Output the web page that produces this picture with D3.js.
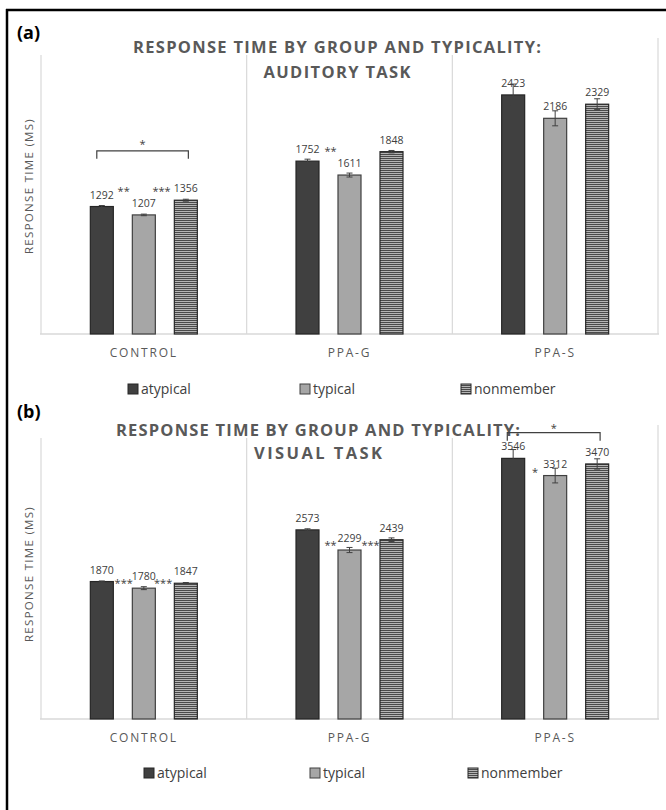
<!DOCTYPE html>
<html>
<head>
<meta charset="utf-8">
<script src="https://cdn.jsdelivr.net/npm/d3@7"></script>
<style>
  body { margin: 0; background: #fff; overflow: hidden; }
  svg { display: block; font-family: "Open Sans", sans-serif; }
</style>
</head>
<body>
<svg id="chart" width="666" height="810"></svg>
<script>
// data (response time, ms)
const groups = ["CONTROL", "PPA-G", "PPA-S"];
const series = ["atypical", "typical", "nonmember"];

const auditoryMeans = [[1292, 1207, 1356], [1752, 1611, 1848], [2423, 2186, 2329]];
const auditoryErr   = [[10, 8, 10], [20, 20, 12], [110, 76, 55]];
const visualMeans   = [[1870, 1780, 1847], [2573, 2299, 2439], [3546, 3312, 3470]];
const visualErr     = [[8, 20, 10], [15, 35, 25], [120, 100, 70]];

// significance marks: group, position between bars (0..2), level in ms
const auditoryStars = [
    { group: "CONTROL", pos: 0.52, level: 1470, text: "**" },
    { group: "CONTROL", pos: 1.42, level: 1470, text: "***" },
    { group: "PPA-G",   pos: 0.55, level: 1874, text: "**" }
];
const visualStars = [
    { group: "CONTROL", pos: 0.52, level: 1878, text: "***" },
    { group: "CONTROL", pos: 1.46, level: 1878, text: "***" },
    { group: "PPA-G",   pos: 0.55, level: 2395, text: "**" },
    { group: "PPA-G",   pos: 1.50, level: 2395, text: "***" },
    { group: "PPA-S",   pos: 0.52, level: 3388, text: "*" }
];
const auditoryBracket = { group: "CONTROL", from: -0.12, to: 2.06, level: 1857, text: "*" };
const visualBracket   = { group: "PPA-S",   from: -0.14, to: 2.07, level: 3895, text: "*" };

const titleLine1 = "RESPONSE TIME BY GROUP AND TYPICALITY:";
const yLabel = "RESPONSE TIME (MS)";

const svg = d3.select("#chart");
const fills = { atypical: "#404040", typical: "#a6a6a6", nonmember: "url(#hstripe)" };
const strokes = { atypical: "#262626", typical: "#404040", nonmember: "#262626" };

const defs = svg.append("defs");
const pat = defs.append("pattern")
    .attr("id", "hstripe")
    .attr("patternUnits", "userSpaceOnUse")
    .attr("width", 4).attr("height", 2);
pat.append("rect").attr("width", 4).attr("height", 2).attr("fill", "#b4b4b4");
pat.append("rect").attr("width", 4).attr("height", 1).attr("fill", "#4a4a4a");

// outer frame (only left and top visible)
svg.append("line").attr("x1", 7).attr("x2", 7).attr("y1", 9).attr("y2", 810)
    .attr("stroke", "#000").attr("stroke-width", 2.5);
svg.append("line").attr("x1", 6).attr("x2", 666).attr("y1", 10).attr("y2", 10)
    .attr("stroke", "#000").attr("stroke-width", 2.5);

const panels = [
    { tag: "(a)", tagY: 39, title2: "AUDITORY TASK", means: auditoryMeans, errs: auditoryErr,
      yMax: 3000, top: 38, bottom: 334, titleX: 337, t1: 52, t2: 77, w1: 408, w2: 147, coverBottom: 55,
      legendY: 389, legendX: [128, 300, 461], catY: 357, yLabelY: 186,
      stars: auditoryStars, bracket: auditoryBracket, bracketGap: 9 },
    { tag: "(b)", tagY: 418, title2: "VISUAL TASK", means: visualMeans, errs: visualErr,
      yMax: 4000, top: 425, bottom: 719, titleX: 318, t1: 435, t2: 458, w1: 404, w2: 128, coverBottom: 438,
      legendY: 773, legendX: [144, 310, 468], catY: 742, yLabelY: 574,
      stars: visualStars, bracket: visualBracket, bracketGap: 7 }
];

const xScale = d3.scaleBand().domain(groups).range([41, 658]).padding(0);
const xSub = d3.scaleLinear().domain([0, 2]).range([-42, 42]);
const barW = 23;

panels.forEach(p => drawPanel(p));

function drawPanel(p) {
    const yScale = d3.scaleLinear().domain([0, p.yMax]).range([p.bottom, p.top]);
    const g = svg.append("g");
    const bx = (grp, pos) => xScale(grp) + xScale.bandwidth() / 2 + xSub(pos);

    // frame lines of the plot area
    const divs = [0, 1, 2, 3].map(i => 41 + i * xScale.bandwidth());
    g.selectAll(".div").data(divs).enter().append("line")
        .attr("x1", d => d).attr("x2", d => d)
        .attr("y1", p.top).attr("y2", p.bottom)
        .attr("stroke", "#d9d9d9").attr("stroke-width", 1.2);
    g.append("line").attr("x1", 40).attr("x2", 659)
        .attr("y1", p.bottom).attr("y2", p.bottom)
        .attr("stroke", "#d9d9d9").attr("stroke-width", 1.5);

    // title with white box behind it
    g.append("rect").attr("x", 36).attr("y", p.top - 2)
        .attr("width", 600).attr("height", p.coverBottom - p.top + 2)
        .attr("fill", "#fff");
    g.append("text").attr("x", p.titleX).attr("y", p.t1 + 0.5)
        .attr("text-anchor", "middle").attr("font-size", 16.5).attr("font-weight", "bold")
        .attr("fill", "#595959").attr("textLength", p.w1).attr("lengthAdjust", "spacing")
        .text(titleLine1);
    g.append("text").attr("x", p.titleX).attr("y", p.t2 + 0.5)
        .attr("text-anchor", "middle").attr("font-size", 16.5).attr("font-weight", "bold")
        .attr("fill", "#595959").attr("textLength", p.w2).attr("lengthAdjust", "spacing")
        .text(p.title2);

    g.append("text").attr("x", 17).attr("y", p.tagY)
        .attr("font-size", 18).attr("font-weight", "bold").attr("fill", "#000")
        .text(p.tag);

    g.append("text")
        .attr("transform", `translate(33,${p.yLabelY}) rotate(-90)`)
        .attr("text-anchor", "middle").attr("font-size", 11.5).attr("fill", "#595959")
        .attr("letter-spacing", 1.3)
        .text(yLabel);

    // bars
    const rows = [];
    groups.forEach((grp, gi) => series.forEach((s, si) => {
        rows.push({ group: grp, series: s, si: si, value: p.means[gi][si], err: p.errs[gi][si] });
    }));

    g.selectAll(".bar").data(rows).enter().append("rect")
        .attr("class", "bar")
        .attr("x", d => bx(d.group, d.si) - barW / 2)
        .attr("y", d => yScale(d.value))
        .attr("width", barW)
        .attr("height", d => p.bottom - yScale(d.value))
        .attr("fill", d => fills[d.series])
        .attr("stroke", d => strokes[d.series])
        .attr("stroke-width", 1.2);

    // error bars
    const eb = g.selectAll(".err").data(rows).enter().append("g").attr("class", "err")
        .attr("stroke", "#404040").attr("stroke-width", 1);
    eb.append("line")
        .attr("x1", d => bx(d.group, d.si)).attr("x2", d => bx(d.group, d.si))
        .attr("y1", d => yScale(d.value - d.err)).attr("y2", d => yScale(d.value + d.err));
    eb.append("line")
        .attr("x1", d => bx(d.group, d.si) - 3).attr("x2", d => bx(d.group, d.si) + 3)
        .attr("y1", d => yScale(d.value + d.err)).attr("y2", d => yScale(d.value + d.err));
    eb.append("line")
        .attr("x1", d => bx(d.group, d.si) - 3).attr("x2", d => bx(d.group, d.si) + 3)
        .attr("y1", d => yScale(d.value - d.err)).attr("y2", d => yScale(d.value - d.err));

    // value labels
    g.selectAll(".val").data(rows).enter().append("text")
        .attr("x", d => bx(d.group, d.si))
        .attr("y", d => yScale(d.value) - 8)
        .attr("text-anchor", "middle").attr("font-size", 10.5).attr("fill", "#404040")
        .text(d => d.value);

    // significance stars
    g.selectAll(".star").data(p.stars).enter().append("text")
        .attr("x", d => bx(d.group, d.pos))
        .attr("y", d => yScale(d.level) + 6)
        .attr("text-anchor", "middle").attr("font-size", 11).attr("fill", "#404040")
        .text(d => d.text);

    // bracket
    const b = p.bracket;
    const by = yScale(b.level);
    g.append("path")
        .attr("d", `M${bx(b.group, b.from)},${by + 8}V${by}H${bx(b.group, b.to)}V${by + 8}`)
        .attr("fill", "none").attr("stroke", "#404040").attr("stroke-width", 1.2);
    g.append("text")
        .attr("x", (bx(b.group, b.from) + bx(b.group, b.to)) / 2)
        .attr("y", by - p.bracketGap + 6)
        .attr("text-anchor", "middle").attr("font-size", 11).attr("fill", "#404040")
        .text(b.text);

    // category labels
    g.selectAll(".cat").data(groups).enter().append("text")
        .attr("x", d => xScale(d) + xScale.bandwidth() / 2)
        .attr("y", p.catY)
        .attr("text-anchor", "middle").attr("font-size", 12).attr("fill", "#595959")
        .attr("letter-spacing", 1.8)
        .text(d => d);

    // legend
    const lg = g.selectAll(".leg").data(series).enter().append("g")
        .attr("transform", (d, i) => `translate(${p.legendX[i]},${p.legendY})`);
    lg.append("rect").attr("x", 0).attr("y", -5).attr("width", 10).attr("height", 10)
        .attr("fill", d => fills[d]).attr("stroke", d => strokes[d]).attr("stroke-width", 1);
    lg.append("text").attr("x", 13).attr("y", 5)
        .attr("font-size", 14).attr("fill", "#404040")
        .text(d => d);
}
</script>
</body>
</html>
